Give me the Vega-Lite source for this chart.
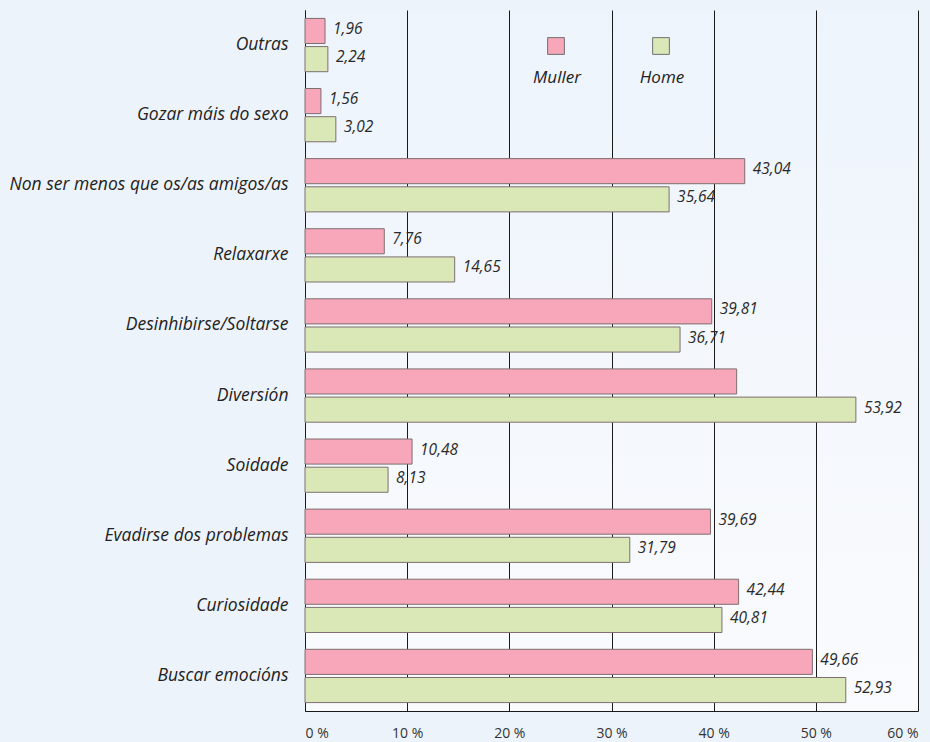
{
  "$schema": "https://vega.github.io/schema/vega-lite/v6.json",
  "width": 613,
  "height": 701,
  "autosize": {"type": "none"},
  "padding": {"left": 305, "top": 10, "right": 12, "bottom": 31},
  "background": "#edf3fa",
  "config": {
    "view": {"stroke": null, "fill": {"gradient": "linear", "x1": 0, "y1": 0, "x2": 0, "y2": 1, "stops": [{"offset": 0, "color": "#edf4fc"}, {"offset": 1, "color": "#fafbfd"}]}},
    "font": "Open Sans"
  },
  "data": {
    "values": [
      {"motivo": "Outras", "sexo": "Muller", "valor": 1.96, "etiqueta": "1,96"},
      {"motivo": "Outras", "sexo": "Home", "valor": 2.24, "etiqueta": "2,24"},
      {"motivo": "Gozar máis do sexo", "sexo": "Muller", "valor": 1.56, "etiqueta": "1,56"},
      {"motivo": "Gozar máis do sexo", "sexo": "Home", "valor": 3.02, "etiqueta": "3,02"},
      {"motivo": "Non ser menos que os/as amigos/as", "sexo": "Muller", "valor": 43.04, "etiqueta": "43,04"},
      {"motivo": "Non ser menos que os/as amigos/as", "sexo": "Home", "valor": 35.64, "etiqueta": "35,64"},
      {"motivo": "Relaxarxe", "sexo": "Muller", "valor": 7.76, "etiqueta": "7,76"},
      {"motivo": "Relaxarxe", "sexo": "Home", "valor": 14.65, "etiqueta": "14,65"},
      {"motivo": "Desinhibirse/Soltarse", "sexo": "Muller", "valor": 39.81, "etiqueta": "39,81"},
      {"motivo": "Desinhibirse/Soltarse", "sexo": "Home", "valor": 36.71, "etiqueta": "36,71"},
      {"motivo": "Diversión", "sexo": "Muller", "valor": 42.25, "etiqueta": ""},
      {"motivo": "Diversión", "sexo": "Home", "valor": 53.92, "etiqueta": "53,92"},
      {"motivo": "Soidade", "sexo": "Muller", "valor": 10.48, "etiqueta": "10,48"},
      {"motivo": "Soidade", "sexo": "Home", "valor": 8.13, "etiqueta": "8,13"},
      {"motivo": "Evadirse dos problemas", "sexo": "Muller", "valor": 39.69, "etiqueta": "39,69"},
      {"motivo": "Evadirse dos problemas", "sexo": "Home", "valor": 31.79, "etiqueta": "31,79"},
      {"motivo": "Curiosidade", "sexo": "Muller", "valor": 42.44, "etiqueta": "42,44"},
      {"motivo": "Curiosidade", "sexo": "Home", "valor": 40.81, "etiqueta": "40,81"},
      {"motivo": "Buscar emocións", "sexo": "Muller", "valor": 49.66, "etiqueta": "49,66"},
      {"motivo": "Buscar emocións", "sexo": "Home", "valor": 52.93, "etiqueta": "52,93"}
    ]
  },
  "encoding": {
    "y": {
      "field": "motivo",
      "type": "nominal",
      "sort": ["Outras", "Gozar máis do sexo", "Non ser menos que os/as amigos/as", "Relaxarxe", "Desinhibirse/Soltarse", "Diversión", "Soidade", "Evadirse dos problemas", "Curiosidade", "Buscar emocións"],
      "scale": {"paddingInner": 0.24, "paddingOuter": 0.12},
      "axis": {
        "title": null,
        "ticks": false,
        "domain": true,
        "domainColor": "#1a1a1a",
        "domainWidth": 1,
        "labelPadding": 17,
        "labelFont": "Open Sans",
        "labelFontStyle": "italic",
        "labelFontWeight": "normal",
        "labelFontSize": 17.5,
        "labelColor": "#222222",
        "labelLimit": 400,
        "grid": false
      }
    },
    "yOffset": {
      "field": "sexo",
      "type": "nominal",
      "sort": ["Muller", "Home"],
      "scale": {"paddingInner": 0.11}
    },
    "x": {
      "field": "valor",
      "type": "quantitative",
      "scale": {"domain": [0, 60], "nice": false},
      "axis": {
        "title": null,
        "values": [0, 10, 20, 30, 40, 50, 60],
        "labelExpr": "datum.value + ' %'",
        "ticks": false,
        "domain": true,
        "domainColor": "#1a1a1a",
        "grid": true,
        "gridColor": "#1a1a1a",
        "gridWidth": 1,
        "gridOpacity": 1,
        "labelPadding": 15,
        "labelFont": "Open Sans",
        "labelFontSize": 14,
        "labelFontWeight": "normal",
        "labelColor": "#333333"
      }
    }
  },
  "layer": [
    {
      "mark": {"type": "bar", "stroke": "#7d6f70", "strokeWidth": 1},
      "encoding": {
        "color": {
          "field": "sexo",
          "type": "nominal",
          "scale": {"domain": ["Muller", "Home"], "range": ["#f7a7b9", "#dae8b8"]},
          "legend": {
            "title": null,
            "orient": "none",
            "direction": "horizontal",
            "legendX": 242,
            "legendY": 27,
            "symbolType": "square",
            "symbolSize": 280,
            "symbolStrokeColor": "#6f6f6f",
            "symbolStrokeWidth": 1,
            "symbolOpacity": 1,
            "columnPadding": 58,
            "labelFont": "Open Sans",
            "labelFontStyle": "italic",
            "labelFontWeight": "normal",
            "labelFontSize": 17,
            "labelColor": "#222222",
            "labelAlign": "center",
            "labelOffset": -8,
            "encoding": {"labels": {"dy": {"value": 32}}}
          }
        }
      }
    },
    {
      "mark": {"type": "text", "align": "left", "baseline": "middle", "dx": 8, "dy": -2, "font": "Open Sans", "fontStyle": "italic", "fontWeight": "normal", "fontSize": 15.5, "color": "#2a2a2a"},
      "encoding": {"text": {"field": "etiqueta", "type": "nominal"}}
    }
  ]
}
